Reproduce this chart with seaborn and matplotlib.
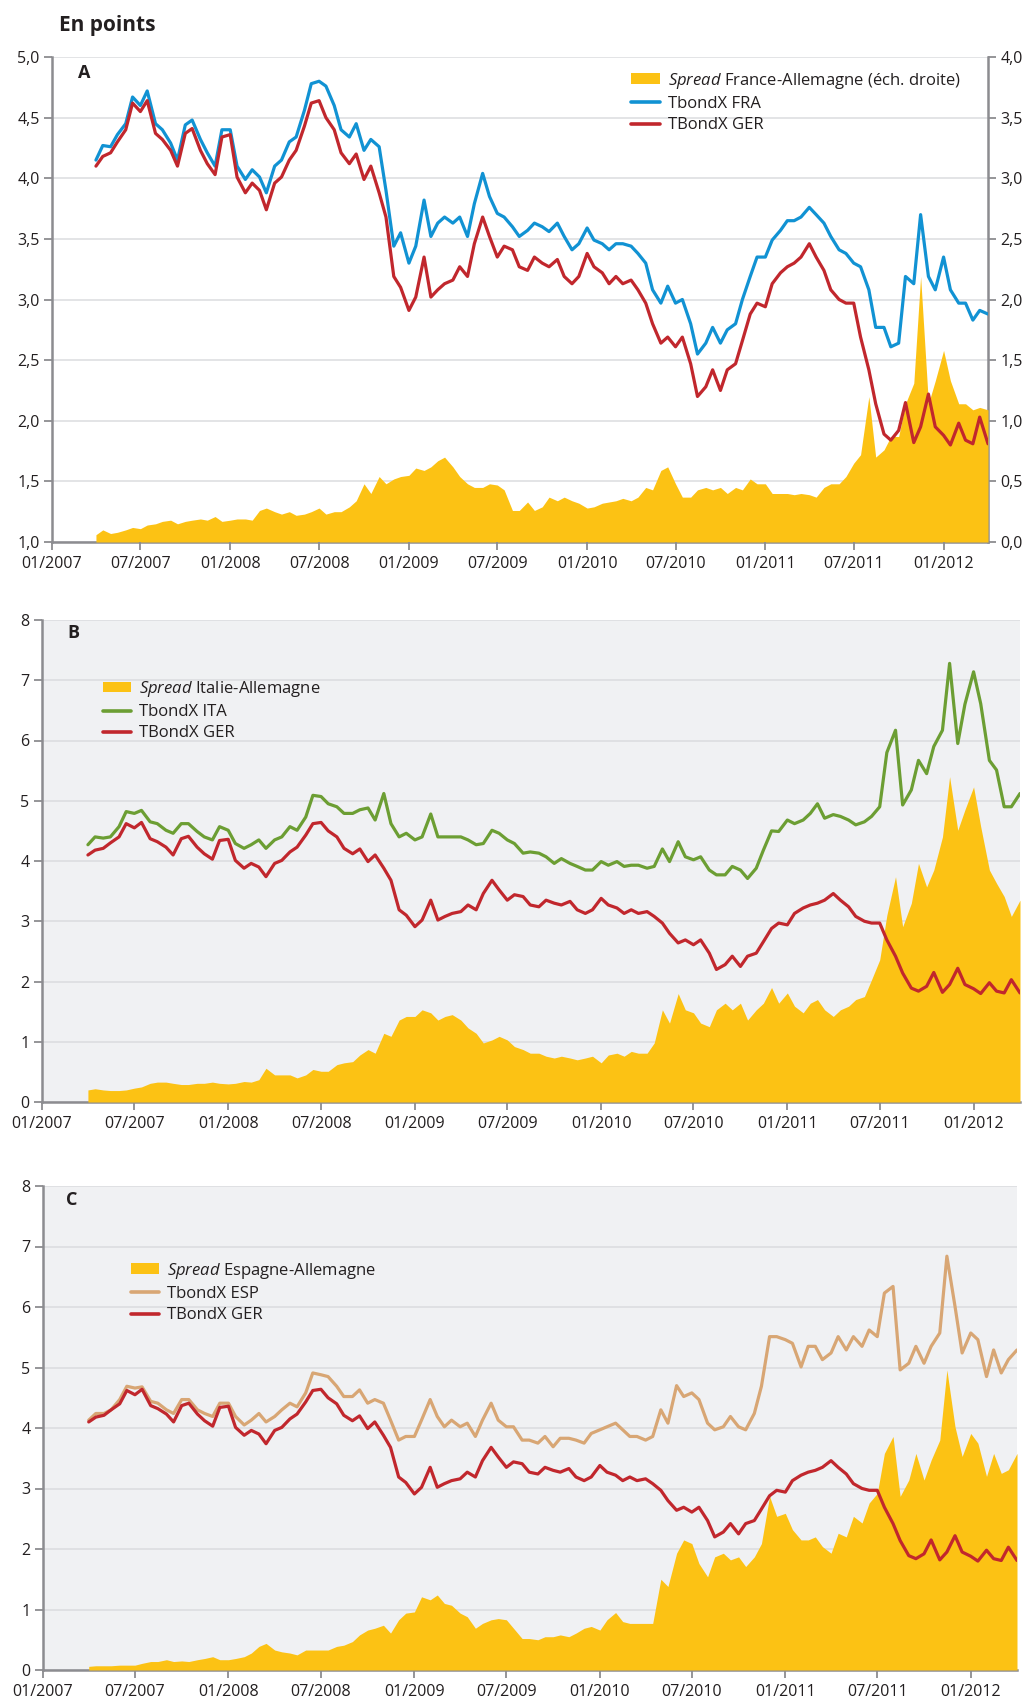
"""Spreads souverains vs Allemagne (TbondX), trois panneaux A/B/C."""

import matplotlib.pyplot as plt
import matplotlib.dates as mdates
from matplotlib.lines import Line2D
from matplotlib.patches import Patch
from matplotlib.ticker import FuncFormatter, MultipleLocator
import pandas as pd
import seaborn as sns

# semi-monthly readings, 01/04/2007 -> 01/04/2012 (121 points)
DATES = pd.date_range("2007-04-01", periods=121, freq="SMS")

# rows = 6 months (12 values) starting 04/2007, last row holds 04/2012
FRA = [
    4.15, 4.27, 4.26, 4.36, 4.45, 4.67, 4.60, 4.72, 4.45, 4.40, 4.29, 4.15,
    4.44, 4.48, 4.32, 4.21, 4.10, 4.40, 4.40, 4.10, 3.99, 4.07, 4.01, 3.88,
    4.10, 4.15, 4.30, 4.34, 4.56, 4.78, 4.80, 4.76, 4.60, 4.40, 4.34, 4.45,
    4.23, 4.32, 4.26, 3.90, 3.44, 3.55, 3.30, 3.44, 3.82, 3.52, 3.63, 3.68,
    3.63, 3.68, 3.52, 3.79, 4.04, 3.85, 3.71, 3.68, 3.60, 3.52, 3.57, 3.63,
    3.60, 3.56, 3.63, 3.52, 3.41, 3.46, 3.59, 3.49, 3.46, 3.41, 3.46, 3.46,
    3.44, 3.38, 3.30, 3.08, 2.97, 3.11, 2.97, 3.00, 2.80, 2.55, 2.64, 2.77,
    2.64, 2.75, 2.80, 3.00, 3.19, 3.35, 3.35, 3.49, 3.57, 3.65, 3.65, 3.68,
    3.76, 3.70, 3.63, 3.52, 3.41, 3.38, 3.30, 3.27, 3.08, 2.77, 2.77, 2.61,
    2.64, 3.19, 3.13, 3.70, 3.19, 3.08, 3.35, 3.08, 2.97, 2.97, 2.83, 2.91,
    2.88,
]
GER = [
    4.10, 4.18, 4.21, 4.30, 4.40, 4.62, 4.55, 4.64, 4.37, 4.32, 4.23, 4.10,
    4.37, 4.41, 4.23, 4.12, 4.03, 4.34, 4.36, 4.01, 3.88, 3.96, 3.90, 3.74,
    3.96, 4.01, 4.15, 4.23, 4.43, 4.62, 4.64, 4.50, 4.40, 4.21, 4.12, 4.20,
    3.99, 4.10, 3.88, 3.68, 3.19, 3.10, 2.91, 3.02, 3.35, 3.02, 3.08, 3.13,
    3.16, 3.27, 3.19, 3.46, 3.68, 3.52, 3.35, 3.44, 3.41, 3.27, 3.24, 3.35,
    3.30, 3.27, 3.33, 3.19, 3.13, 3.19, 3.38, 3.27, 3.22, 3.13, 3.19, 3.13,
    3.16, 3.08, 2.97, 2.80, 2.64, 2.69, 2.61, 2.69, 2.47, 2.20, 2.28, 2.42,
    2.25, 2.42, 2.47, 2.66, 2.88, 2.97, 2.94, 3.13, 3.22, 3.27, 3.30, 3.35,
    3.46, 3.35, 3.24, 3.08, 3.00, 2.97, 2.97, 2.69, 2.42, 2.14, 1.89, 1.84,
    1.92, 2.15, 1.82, 1.95, 2.22, 1.95, 1.88, 1.80, 1.98, 1.84, 1.81, 2.03,
    1.81,
]
ITA = [
    4.27, 4.40, 4.38, 4.40, 4.57, 4.82, 4.79, 4.84, 4.65, 4.62, 4.51, 4.46,
    4.62, 4.62, 4.49, 4.40, 4.35, 4.57, 4.51, 4.29, 4.21, 4.27, 4.35, 4.21,
    4.35, 4.40, 4.57, 4.51, 4.73, 5.09, 5.07, 4.95, 4.90, 4.79, 4.79, 4.85,
    4.88, 4.68, 5.12, 4.62, 4.40, 4.46, 4.35, 4.40, 4.78, 4.40, 4.40, 4.40,
    4.40, 4.35, 4.27, 4.29, 4.51, 4.46, 4.35, 4.29, 4.13, 4.15, 4.13, 4.07,
    3.96, 4.04, 3.96, 3.91, 3.85, 3.85, 3.99, 3.93, 3.99, 3.91, 3.93, 3.93,
    3.88, 3.91, 4.20, 3.99, 4.32, 4.07, 4.02, 4.07, 3.85, 3.77, 3.77, 3.91,
    3.85, 3.71, 3.88, 4.18, 4.50, 4.49, 4.68, 4.62, 4.68, 4.79, 4.95, 4.71,
    4.77, 4.74, 4.68, 4.60, 4.65, 4.74, 4.90, 5.80, 6.17, 4.93, 5.18, 5.67,
    5.45, 5.90, 6.17, 7.28, 5.95, 6.60, 7.14, 6.61, 5.67, 5.51, 4.90, 4.90,
    5.12,
]
ESP = [
    4.13, 4.24, 4.24, 4.30, 4.47, 4.69, 4.66, 4.68, 4.44, 4.41, 4.30, 4.24,
    4.47, 4.47, 4.30, 4.24, 4.19, 4.41, 4.41, 4.19, 4.05, 4.13, 4.24, 4.10,
    4.19, 4.30, 4.41, 4.35, 4.58, 4.91, 4.88, 4.85, 4.69, 4.52, 4.52, 4.63,
    4.41, 4.47, 4.41, 4.13, 3.80, 3.86, 3.86, 4.13, 4.47, 4.19, 4.02, 4.13,
    4.02, 4.08, 3.86, 4.13, 4.41, 4.13, 4.02, 4.02, 3.80, 3.80, 3.75, 3.86,
    3.69, 3.83, 3.83, 3.80, 3.75, 3.91, 3.97, 4.02, 4.08, 3.97, 3.86, 3.86,
    3.80, 3.86, 4.30, 4.08, 4.70, 4.52, 4.58, 4.47, 4.08, 3.97, 4.02, 4.19,
    4.02, 3.97, 4.24, 4.69, 5.51, 5.51, 5.46, 5.40, 5.01, 5.35, 5.35, 5.13,
    5.24, 5.51, 5.29, 5.51, 5.35, 5.62, 5.51, 6.23, 6.34, 4.96, 5.07, 5.35,
    5.07, 5.35, 5.57, 6.84, 6.01, 5.24, 5.57, 5.46, 4.85, 5.29, 4.91, 5.13,
    5.29,
]
SPREAD_FR = [
    0.06, 0.10, 0.07, 0.08, 0.10, 0.12, 0.11, 0.14, 0.15, 0.17, 0.18, 0.15,
    0.17, 0.18, 0.19, 0.18, 0.21, 0.17, 0.18, 0.19, 0.19, 0.18, 0.26, 0.28,
    0.25, 0.23, 0.25, 0.22, 0.23, 0.25, 0.28, 0.23, 0.25, 0.25, 0.29, 0.34,
    0.48, 0.40, 0.54, 0.48, 0.52, 0.54, 0.55, 0.61, 0.59, 0.62, 0.67, 0.70,
    0.62, 0.54, 0.48, 0.45, 0.45, 0.48, 0.47, 0.43, 0.26, 0.26, 0.33, 0.26,
    0.29, 0.37, 0.34, 0.37, 0.34, 0.32, 0.28, 0.29, 0.32, 0.33, 0.34, 0.36,
    0.34, 0.37, 0.45, 0.43, 0.59, 0.62, 0.48, 0.37, 0.37, 0.43, 0.45, 0.43,
    0.45, 0.40, 0.45, 0.43, 0.52, 0.48, 0.48, 0.40, 0.40, 0.40, 0.39, 0.40,
    0.39, 0.37, 0.45, 0.48, 0.48, 0.54, 0.65, 0.72, 1.20, 0.70, 0.76, 0.87,
    0.87, 1.14, 1.31, 2.19, 1.14, 1.33, 1.58, 1.33, 1.14, 1.14, 1.09, 1.11,
    1.09,
]
SPREAD_IT = [
    0.20, 0.22, 0.20, 0.19, 0.19, 0.20, 0.23, 0.25, 0.31, 0.33, 0.33, 0.31,
    0.29, 0.29, 0.31, 0.31, 0.33, 0.31, 0.30, 0.31, 0.34, 0.33, 0.37, 0.56,
    0.45, 0.45, 0.45, 0.40, 0.45, 0.54, 0.51, 0.51, 0.62, 0.65, 0.67, 0.78,
    0.87, 0.81, 1.14, 1.09, 1.36, 1.42, 1.42, 1.53, 1.48, 1.36, 1.42, 1.45,
    1.36, 1.23, 1.14, 0.98, 1.03, 1.09, 1.03, 0.92, 0.87, 0.81, 0.81, 0.76,
    0.73, 0.76, 0.73, 0.70, 0.73, 0.76, 0.65, 0.78, 0.81, 0.76, 0.84, 0.81,
    0.81, 0.98, 1.53, 1.31, 1.80, 1.53, 1.48, 1.31, 1.25, 1.53, 1.64, 1.53,
    1.64, 1.36, 1.53, 1.64, 1.90, 1.64, 1.81, 1.59, 1.48, 1.64, 1.70, 1.53,
    1.42, 1.53, 1.59, 1.70, 1.75, 2.03, 2.36, 3.10, 3.74, 2.91, 3.30, 3.96,
    3.57, 3.85, 4.40, 5.40, 4.51, 4.85, 5.23, 4.57, 3.85, 3.63, 3.41, 3.08,
    3.35,
]
SPREAD_ES = [
    0.06, 0.07, 0.07, 0.07, 0.08, 0.08, 0.08, 0.11, 0.14, 0.14, 0.17, 0.14,
    0.15, 0.14, 0.17, 0.19, 0.22, 0.17, 0.17, 0.19, 0.22, 0.28, 0.39, 0.44,
    0.33, 0.30, 0.28, 0.25, 0.33, 0.33, 0.33, 0.33, 0.39, 0.41, 0.47, 0.58,
    0.66, 0.69, 0.74, 0.61, 0.83, 0.94, 0.96, 1.21, 1.16, 1.24, 1.10, 1.07,
    0.94, 0.88, 0.69, 0.77, 0.83, 0.85, 0.83, 0.69, 0.52, 0.52, 0.50, 0.55,
    0.55, 0.58, 0.55, 0.61, 0.69, 0.72, 0.66, 0.83, 0.95, 0.80, 0.77, 0.77,
    0.77, 0.77, 1.50, 1.38, 1.93, 2.15, 2.09, 1.76, 1.54, 1.87, 1.93, 1.82,
    1.87, 1.71, 1.87, 2.09, 2.87, 2.54, 2.59, 2.32, 2.15, 2.15, 2.20, 2.04,
    1.93, 2.26, 2.20, 2.54, 2.43, 2.76, 2.92, 3.58, 3.86, 2.87, 3.14, 3.58,
    3.14, 3.47, 3.80, 4.96, 4.02, 3.53, 3.91, 3.75, 3.20, 3.58, 3.25, 3.31,
    3.58,
]

YELLOW = "#fcc214"
BLUE = "#1192d3"
RED = "#c1272d"
GREEN = "#6c9e33"
TAN = "#d8a674"
BG = "#f0f1f3"
GRID = "#dbdcdf"
SPINE = "#8c8c90"
INK = "#231f20"

W, H = 1029, 1702
XMIN, XMAX = pd.Timestamp("2007-01-01"), pd.Timestamp("2012-04-01")
LW = 2.3

sns.set_theme(style="white")
plt.rcParams["font.family"] = ["Open Sans", "DejaVu Sans"]
plt.rcParams["mathtext.fontset"] = "custom"
plt.rcParams["mathtext.rm"] = "Open Sans"
plt.rcParams["mathtext.it"] = "Open Sans:italic"
plt.rcParams["text.color"] = INK

comma1 = FuncFormatter(lambda v, _: f"{v:.1f}".replace(".", ","))
integer = FuncFormatter(lambda v, _: f"{v:.0f}")


def frac(left, top, right, bottom):
    """pixel box -> figure fraction rect"""
    return [left / W, 1 - bottom / H, (right - left) / W, (bottom - top) / H]


def style_x(ax):
    ax.set_xlim(XMIN, XMAX)
    ax.xaxis.set_major_locator(mdates.MonthLocator(bymonth=(1, 7)))
    ax.xaxis.set_major_formatter(mdates.DateFormatter("%m/%Y"))
    ax.tick_params(axis="x", bottom=True, direction="out", length=6, width=1.3,
                   color=SPINE, labelsize=11.5, labelcolor=INK, pad=4)
    ax.set_xlabel("")
    ax.set_ylabel("")


def style_spines(ax, left=True, bottom=True, right=False):
    for side, show in (("left", left), ("bottom", bottom), ("right", right), ("top", False)):
        ax.spines[side].set_visible(show)
        ax.spines[side].set_color(SPINE)
        ax.spines[side].set_linewidth(1.8)


def add_legend(ax, label, color, x, y, spread_label):
    handles = [
        Patch(facecolor=YELLOW, edgecolor="none"),
        Line2D([], [], color=color, lw=2.6),
        Line2D([], [], color=RED, lw=2.6),
    ]
    labels = [spread_label, label, "TBondX GER"]
    ax.legend(handles, labels, loc="upper left", bbox_to_anchor=(x, y),
              frameon=False, fontsize=12, borderpad=0, borderaxespad=0,
              handlelength=1.7, handleheight=0.6, handletextpad=0.5,
              labelspacing=0.32)


fig = plt.figure(figsize=(W / 100, H / 100), dpi=100)
fig.text(59 / W, 1 - 25 / H, "En points", fontsize=15, fontweight="bold",
         va="center", ha="left")

# ---- panel A: France (spread on right-hand scale)
axA = fig.add_axes(frac(52, 57, 988, 542))
twA = axA.twinx()
axA.set_zorder(twA.get_zorder() + 1)
axA.patch.set_visible(False)
twA.set_facecolor(BG)
twA.fill_between(DATES, 0, SPREAD_FR, color=YELLOW, lw=0, zorder=2.6)
twA.set_ylim(0, 4)
twA.yaxis.set_major_locator(MultipleLocator(0.5))
twA.yaxis.set_major_formatter(comma1)
twA.grid(axis="y", color=GRID, lw=1.1)
twA.set_axisbelow(True)
twA.tick_params(axis="y", right=True, direction="out", length=6, width=1.3,
                color=SPINE, labelsize=11.5, labelcolor=INK, pad=3)
style_spines(twA, left=False, bottom=True, right=True)

sns.lineplot(x=DATES, y=FRA, ax=axA, color=BLUE, lw=LW, legend=False)
sns.lineplot(x=DATES, y=GER, ax=axA, color=RED, lw=LW, legend=False)
axA.set_ylim(1, 5)
axA.yaxis.set_major_locator(MultipleLocator(0.5))
axA.yaxis.set_major_formatter(comma1)
axA.tick_params(axis="y", left=True, direction="out", length=6, width=1.3,
                color=SPINE, labelsize=11.5, labelcolor=INK, pad=3)
style_x(axA)
style_spines(axA, left=True, bottom=False)
axA.text(0.028, 0.967, "A", transform=axA.transAxes, fontsize=13,
         fontweight="bold", va="center", ha="left")
add_legend(axA, "TbondX FRA", BLUE, 0.619, 0.972,
           r"$\mathit{Spread}$ France-Allemagne (éch. droite)")


def spread_panel(box, country, values, spread, color, letter, legend_xy,
                 spread_label, letter_xy):
    ax = fig.add_axes(frac(*box))
    ax.set_facecolor(BG)
    ax.fill_between(DATES, 0, spread, color=YELLOW, lw=0, zorder=2.6)
    sns.lineplot(x=DATES, y=values, ax=ax, color=color, lw=LW, legend=False,
                 zorder=3)
    sns.lineplot(x=DATES, y=GER, ax=ax, color=RED, lw=LW, legend=False,
                 zorder=3.1)
    ax.set_ylim(0, 8)
    ax.yaxis.set_major_locator(MultipleLocator(1))
    ax.yaxis.set_major_formatter(integer)
    ax.grid(axis="y", color=GRID, lw=1.1)
    ax.set_axisbelow(True)
    ax.tick_params(axis="y", left=True, direction="out", length=6, width=1.3,
                   color=SPINE, labelsize=11.5, labelcolor=INK, pad=3)
    style_x(ax)
    style_spines(ax)
    ax.text(*letter_xy, letter, transform=ax.transAxes, fontsize=13,
            fontweight="bold", va="center", ha="left")
    add_legend(ax, country, color, *legend_xy, spread_label)
    return ax


spread_panel((42, 620, 1020, 1102), "TbondX ITA", ITA, SPREAD_IT, GREEN, "B",
             (0.062, 0.878), r"$\mathit{Spread}$ Italie-Allemagne",
             (0.026, 0.973))
spread_panel((43, 1186, 1017, 1670), "TbondX ESP", ESP, SPREAD_ES, TAN, "C",
             (0.090, 0.846), r"$\mathit{Spread}$ Espagne-Allemagne",
             (0.024, 0.971))

fig.savefig("out.png", dpi=100, facecolor="white")
